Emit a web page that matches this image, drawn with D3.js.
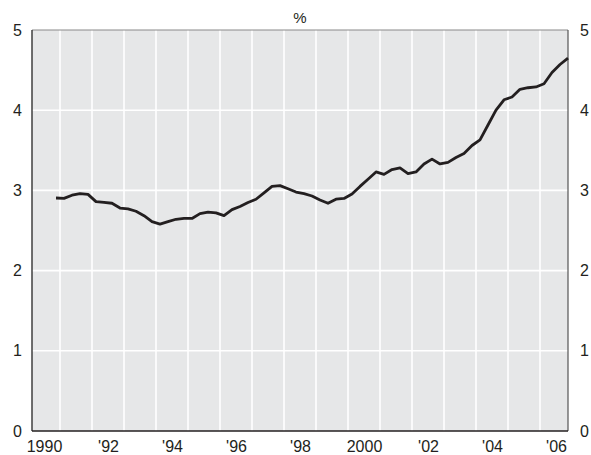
<!DOCTYPE html>
<html><head><meta charset="utf-8">
<script src="https://cdn.jsdelivr.net/npm/d3@7"></script>
<style>
html,body{margin:0;padding:0;background:#fff;}
text{font-family:"Liberation Sans",Arial,sans-serif;fill:#231f20;}
</style></head>
<body><svg id="c" width="591" height="455"></svg>
<script>
// Quarterly series, first point 1990 Q4, last point 2006 Q4
const startYear = 1990, startQuarter = 4;
const values = [
  2.905,
  2.90, 2.94, 2.96, 2.95,
  2.86, 2.85, 2.84, 2.78,
  2.77, 2.74, 2.685, 2.61,
  2.58, 2.61, 2.64, 2.65,
  2.65, 2.71, 2.73, 2.72,
  2.685, 2.76, 2.80, 2.85,
  2.89, 2.97, 3.05, 3.06,
  3.02, 2.98, 2.96, 2.93,
  2.88, 2.84, 2.89, 2.90,
  2.955, 3.05, 3.14, 3.23,
  3.20, 3.26, 3.28, 3.21,
  3.23, 3.33, 3.39, 3.33,
  3.35, 3.41, 3.46, 3.56,
  3.63, 3.815, 4.00, 4.13,
  4.165, 4.26, 4.28, 4.29,
  4.33, 4.47, 4.57, 4.65
];
const xTickYears = [1990, 1992, 1994, 1996, 1998, 2000, 2002, 2004, 2006];
const xTickLabels = ["1990", "'92", "'94", "'96", "'98", "2000", "'02", "'04", "'06"];
const gridYears = d3.range(1991, 2007);
const yTicks = [0, 1, 2, 3, 4, 5];
const unitLabel = "%";

const data = values.map((v, i) => {
  const qi = (startQuarter - 1) + i;
  const yr = startYear + Math.floor(qi / 4);
  const q = qi % 4 + 1;
  return {t: yr + (q - 0.5) / 4, v};
});

const L = 32, R = 568, T = 30, B = 431;
const x = d3.scaleLinear().domain([1990.125, 2006.875]).range([L, R]);
const y = d3.scaleLinear().domain([0, 5]).range([B, T]);
const svg = d3.select("#c");

svg.append("rect").attr("x", L).attr("y", T).attr("width", R - L).attr("height", B - T).attr("fill", "#e6e7e8");

svg.append("g").selectAll("line").data(gridYears).join("line")
  .attr("x1", d => x(d)).attr("x2", d => x(d)).attr("y1", T).attr("y2", B)
  .attr("stroke", "#fff").attr("stroke-width", 1.6);
svg.append("g").selectAll("line").data(yTicks.filter(d => d > 0 && d < 5)).join("line")
  .attr("x1", L).attr("x2", R).attr("y1", d => y(d)).attr("y2", d => y(d))
  .attr("stroke", "#fff").attr("stroke-width", 1.6);

// frame
svg.append("line").attr("x1", L).attr("x2", R).attr("y1", T).attr("y2", T).attr("stroke", "#8a8a8a").attr("stroke-width", 1.2);
svg.append("line").attr("x1", R).attr("x2", R).attr("y1", T).attr("y2", B).attr("stroke", "#555").attr("stroke-width", 1.2);
svg.append("line").attr("x1", L).attr("x2", L).attr("y1", T).attr("y2", B).attr("stroke", "#333").attr("stroke-width", 1.4);
svg.append("line").attr("x1", L).attr("x2", R).attr("y1", B).attr("y2", B).attr("stroke", "#231f20").attr("stroke-width", 1.4);

// axes
const yl = svg.append("g").attr("transform", `translate(${L},0)`)
  .call(d3.axisLeft(y).tickValues(yTicks).tickSize(0).tickPadding(10).tickFormat(d3.format("d")));
const yr = svg.append("g").attr("transform", `translate(${R},0)`)
  .call(d3.axisRight(y).tickValues(yTicks).tickSize(0).tickPadding(12).tickFormat(d3.format("d")));
const xa = svg.append("g").attr("transform", `translate(0,${B})`)
  .call(d3.axisBottom(x).tickValues(xTickYears.map(d => d + 0.5)).tickSize(0).tickPadding(10)
    .tickFormat((d, i) => xTickLabels[i]));
[yl, yr, xa].forEach(g => {
  g.select(".domain").remove();
  g.selectAll("text").attr("font-size", 16).attr("font-family", "Liberation Sans, Arial, sans-serif").attr("fill", "#231f20");
});

svg.append("text").attr("x", (L + R) / 2).attr("y", 23).attr("text-anchor", "middle")
  .attr("font-size", 15).text(unitLabel);

svg.append("path").datum(data)
  .attr("fill", "none").attr("stroke", "#231f20").attr("stroke-width", 2.8)
  .attr("stroke-linejoin", "round").attr("stroke-linecap", "butt")
  .attr("d", d3.line().x(d => x(d.t)).y(d => y(d.v)));
</script></body></html>
